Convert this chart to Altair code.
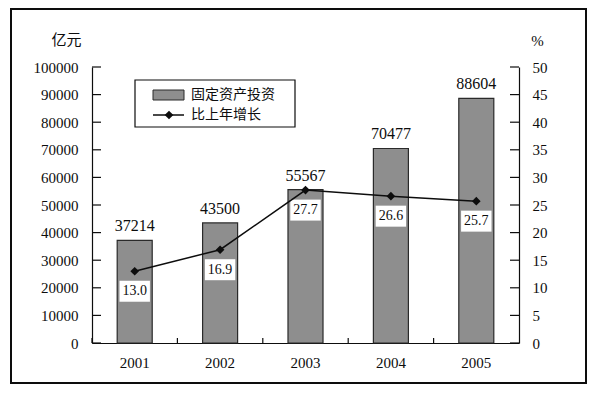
import altair as alt
import pandas as pd

# ---- data ----
years = ["2001", "2002", "2003", "2004", "2005"]
investment = [37214, 43500, 55567, 70477, 88604]
growth = [13.0, 16.9, 27.7, 26.6, 25.7]
left_ticks = [0, 10000, 20000, 30000, 40000, 50000, 60000, 70000, 80000, 90000, 100000]
right_ticks = [0, 5, 10, 15, 20, 25, 30, 35, 40, 45, 50]
series_names = ["固定资产投资", "比上年增长"]
left_unit = "亿元"
right_unit = "%"

df = pd.DataFrame({
    "year": years,
    "inv": investment,
    "growth": growth,
    "glabel": [f"{g:.1f}" for g in growth],
})

W, H = 427, 276
SERIF = "'Liberation Serif', 'Times New Roman', serif"
CJK = "Noto Sans CJK SC"
INK = "#0d0d0d"
BAR = "#8e8e8e"

xs = alt.Scale(type="band", paddingInner=0, paddingOuter=0)
x_axis = alt.Axis(title=None, ticks=False, labelPadding=12, labelFont=SERIF,
                  labelFontSize=15, labelColor=INK, domainColor=INK,
                  domainWidth=1.2, labelAngle=0, grid=False)

ys_left = alt.Scale(domain=[0, 100000], nice=False, zero=True)
y_left_axis = alt.Axis(title=left_unit, titleAngle=0, titleX=-26, titleY=-28,
                       titleAlign="center", titleBaseline="middle", titleFont=CJK,
                       titleFontSize=15, titleFontWeight="normal", titleColor=INK,
                       values=left_ticks, ticks=False, labelPadding=14,
                       labelFont=SERIF, labelFontSize=15, labelColor=INK,
                       domainColor=INK, domainWidth=1.2, grid=False, format="d")

ys_right = alt.Scale(domain=[0, 50], nice=False, zero=True)
y_right_axis = alt.Axis(orient="right", title=right_unit, titleAngle=0, titleX=18,
                        titleY=-27, titleAlign="center", titleBaseline="middle",
                        titleFont=SERIF, titleFontSize=15, titleFontWeight="normal",
                        titleColor=INK, values=right_ticks, ticks=False,
                        labelPadding=13, labelFont=SERIF, labelFontSize=15,
                        labelColor=INK, domainColor=INK, domainWidth=1.2,
                        grid=False, format="d")

X = alt.X("year:N", scale=xs, axis=x_axis)
one = pd.DataFrame({"a": [0]})

# ---- frame ----
frame = alt.Chart(one).mark_rect(fill="white", fillOpacity=0, stroke=INK, strokeWidth=2).encode(
    x=alt.value(-81), x2=alt.value(494), y=alt.value(-58), y2=alt.value(316))

# ---- bars ----
bars = alt.Chart(df).mark_bar(width={"band": 0.41}, fill=BAR, stroke="#2a2a2a",
                              strokeWidth=1.2).encode(
    x=X, y=alt.Y("inv:Q", scale=ys_left, axis=y_left_axis))

bar_text = alt.Chart(df).mark_text(dy=-9, baseline="alphabetic", font=SERIF,
                                   fontSize=16, color=INK).encode(
    x=X, y=alt.Y("inv:Q", scale=ys_left, axis=y_left_axis),
    text=alt.Text("inv:Q", format="d"))

left_tick_rules = alt.Chart(pd.DataFrame({"v": left_ticks})).mark_rule(
    color=INK, strokeWidth=1.2).encode(
    y=alt.Y("v:Q", scale=ys_left, axis=y_left_axis),
    x=alt.value(0), x2=alt.value(9))

x_tick_rules = alt.Chart(df).mark_rule(color=INK, strokeWidth=1.2).encode(
    x=alt.X("year:N", scale=xs, axis=x_axis, bandPosition=0),
    y=alt.value(H - 5), y2=alt.value(H))

# ---- legend ----
leg_box = alt.Chart(one).mark_rect(fill="white", stroke=INK, strokeWidth=1.2).encode(
    x=alt.value(43), x2=alt.value(203), y=alt.value(13), y2=alt.value(60))
leg_swatch = alt.Chart(one).mark_rect(fill=BAR, stroke="#2a2a2a", strokeWidth=1).encode(
    x=alt.value(61), x2=alt.value(92), y=alt.value(23), y2=alt.value(33))
leg_line = alt.Chart(one).mark_rule(color=INK, strokeWidth=1.5).encode(
    x=alt.value(61), x2=alt.value(92), y=alt.value(48))
leg_pt = alt.Chart(one).mark_point(shape="diamond", filled=True, size=75, color=INK,
                                   opacity=1).encode(x=alt.value(77), y=alt.value(48))
leg_t1 = alt.Chart(pd.DataFrame({"t": [series_names[0]]})).mark_text(
    align="left", baseline="middle", font=CJK, fontSize=14, color=INK).encode(
    text="t:N", x=alt.value(99), y=alt.value(28))
leg_t2 = alt.Chart(pd.DataFrame({"t": [series_names[1]]})).mark_text(
    align="left", baseline="middle", font=CJK, fontSize=14, color=INK).encode(
    text="t:N", x=alt.value(99), y=alt.value(48))

left = alt.layer(frame, bars, bar_text, left_tick_rules, x_tick_rules,
                 leg_box, leg_swatch, leg_line, leg_pt, leg_t1, leg_t2)

# ---- growth line ----
YR = alt.Y("growth:Q", scale=ys_right, axis=y_right_axis)
boxes = alt.Chart(df).mark_point(shape="M-1.45,-1H1.45V1H-1.45Z", filled=True,
                                 fill="white", size=441, yOffset=20, opacity=1,
                                 strokeWidth=0).encode(x=X, y=YR)
glabels = alt.Chart(df).mark_text(dy=20, baseline="middle", font=SERIF, fontSize=14,
                                  color=INK).encode(x=X, y=YR, text="glabel:N")
line = alt.Chart(df).mark_line(color=INK, strokeWidth=1.5).encode(x=X, y=YR)
pts = alt.Chart(df).mark_point(shape="diamond", filled=True, size=75, color=INK,
                               opacity=1).encode(x=X, y=YR)
right_tick_rules = alt.Chart(pd.DataFrame({"g": right_ticks})).mark_rule(
    color=INK, strokeWidth=1.2).encode(
    y=alt.Y("g:Q", scale=ys_right, axis=y_right_axis),
    x=alt.value(W - 9), x2=alt.value(W))

right = alt.layer(boxes, glabels, line, pts, right_tick_rules)

chart = alt.layer(left, right).resolve_scale(y="independent").properties(
    width=W, height=H,
    autosize=alt.AutoSizeParams(type="none"),
    padding={"left": 84, "top": 59, "right": 71, "bottom": 43},
).configure_view(strokeWidth=0)

chart.save("out.html", embed_options={"renderer": "svg", "actions": False})
